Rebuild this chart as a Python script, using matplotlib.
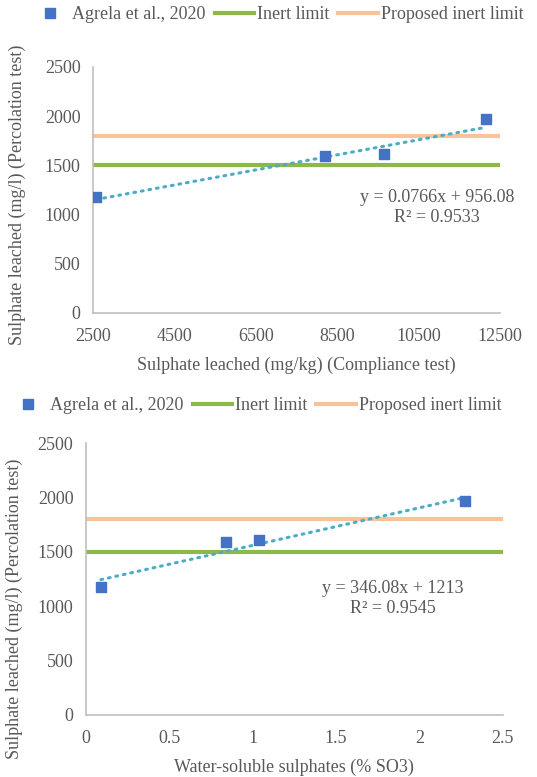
import numpy as np
import matplotlib
matplotlib.use("Agg")
import matplotlib.pyplot as plt
from matplotlib.lines import Line2D

plt.rcParams['font.family'] = ['Liberation Serif', 'DejaVu Serif']

# data
compliance = [2580, 8200, 9650, 12150]          # mg/kg
soluble = [0.09, 0.84, 1.04, 2.27]               # % SO3
percolation = [1178, 1592, 1612, 1968]           # mg/l
inert_limit = 1500
proposed_limit = 1800
fit_top = (0.0766, 956.08, 0.9533)
fit_bot = (346.08, 1213, 0.9545)

grey = '#595959'
c_pts = '#4472C4'
c_trend = '#4BACC6'
c_inert = '#8DB84A'
c_prop = '#F8C39A'
fs = 13

fig = plt.figure(figsize=(5.37, 7.77), dpi=100)
ax1 = fig.add_axes([0.1732, 0.5972, 0.758, 0.3166])
ax2 = fig.add_axes([0.160, 0.0798, 0.7765, 0.350])


def draw(ax, xs, xlim, xticks, fit, eq_pos, eq_txt, xlabel):
    ax.plot(xlim, [proposed_limit] * 2, color=c_prop, lw=3, solid_capstyle='round', zorder=2)
    ax.plot(xlim, [inert_limit] * 2, color=c_inert, lw=3, solid_capstyle='round', zorder=2)
    xx = np.array([min(xs), max(xs)])
    ax.plot(xx, fit[0] * xx + fit[1], color=c_trend, lw=2.2, ls=(0, (0.6, 1.9)),
            dash_capstyle='round', zorder=3)
    ax.scatter(xs, percolation, marker='s', s=52, color=c_pts, zorder=4)
    ax.set_xlim(xlim)
    ax.set_ylim(0, 2500)
    ax.set_xticks(xticks)
    ax.set_yticks(range(0, 2501, 500))
    for s in ['top', 'right']:
        ax.spines[s].set_visible(False)
    for s in ['left', 'bottom']:
        ax.spines[s].set_color('#BFBFBF')
        ax.spines[s].set_linewidth(1.2)
    ax.tick_params(length=0, labelsize=fs, colors=grey, pad=9)
    ax.tick_params(axis='x', pad=11)
    ax.set_xlabel(xlabel, fontsize=fs, color=grey, labelpad=8)
    ax.set_ylabel('Sulphate leached (mg/l) (Percolation test)', fontsize=fs, color=grey)
    ax.text(eq_pos[0], eq_pos[1], eq_txt + '\nR² = %.4f' % fit[2], ha='center', va='top',
            fontsize=fs, color=grey, linespacing=1.2)


draw(ax1, compliance, [2500, 12500], range(2500, 12501, 2000), fit_top, (10950, 1260),
     'y = 0.0766x + 956.08', 'Sulphate leached (mg/kg) (Compliance test)')
draw(ax2, soluble, [0, 2.5], [0, 0.5, 1, 1.5, 2, 2.5], fit_bot, (1.84, 1240),
     'y = 346.08x + 1213', 'Water-soluble sulphates (% SO3)')
ax2.set_xticklabels(['0', '0.5', '1', '1.5', '2', '2.5'])
ax1.yaxis.set_label_coords(-0.165, 0.48)
ax2.yaxis.set_label_coords(-0.151, 0.39)

handles = [Line2D([], [], marker='s', ls='none', color=c_pts, markersize=7.5),
           Line2D([], [], color=c_inert, lw=3),
           Line2D([], [], color=c_prop, lw=3)]
labels = ['Agrela et al., 2020', 'Inert limit', 'Proposed inert limit']
for yc, xc in [(0.981, 0.515), (0.478, 0.474)]:
    fig.legend(handles, labels, loc='center', bbox_to_anchor=(xc, yc), ncol=3, frameon=False,
               fontsize=fs, labelcolor=grey, handlelength=2.2, handletextpad=0.15,
               columnspacing=0.5)

fig.savefig('out.png', dpi=100)
